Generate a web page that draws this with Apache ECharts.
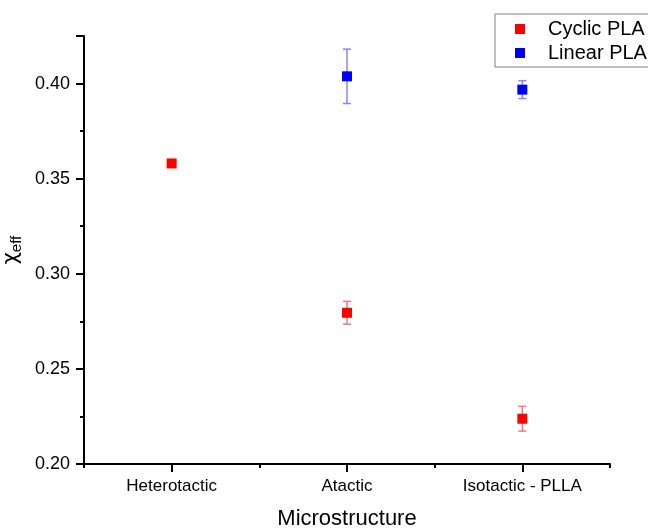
<!DOCTYPE html>
<html>
<head>
<meta charset="utf-8">
<script src="https://cdn.jsdelivr.net/npm/echarts@6/dist/echarts.min.js"></script>
<style>
  html, body { margin: 0; padding: 0; background: #fff; }
  #chart { width: 648px; height: 528px; }
</style>
</head>
<body>
<div id="chart"></div>
<script>
const categories = ['Heterotactic', 'Atactic', 'Isotactic - PLLA']
const cyclicValues = [0.358, 0.2795, 0.2238]
const cyclicErrors = [0.002, 0.006, 0.0065]
const linearValues = [null, 0.4038, 0.3968]
const linearErrors = [null, 0.0143, 0.0047]
const yTicks = { min: 0.2, max: 0.425, interval: 0.05 }

const FONT = 'Liberation Sans, Arial, sans-serif'

const chart = echarts.init(document.getElementById('chart'))

// build [index, value, err] triples, skip empty points
const toPoints = (vals, errs) => vals
  .map((v, i) => (v == null ? null : [i, v, errs[i]]))
  .filter(p => p)

const errorBars = (name, vals, errs, color) => ({
  name: name,
  type: 'custom',
  z: 1,
  silent: true,
  data: toPoints(vals, errs),
  renderItem: (params, api) => {
    const x = api.value(0)
    const v = api.value(1)
    const e = api.value(2)
    const top = api.coord([x, v + e])
    const bot = api.coord([x, v - e])
    const half = 4
    const style = { stroke: color, lineWidth: 1.5 }
    return {
      type: 'group',
      children: [
        { type: 'line', shape: { x1: top[0], y1: top[1], x2: bot[0], y2: bot[1] }, style },
        { type: 'line', shape: { x1: top[0] - half, y1: top[1], x2: top[0] + half, y2: top[1] }, style },
        { type: 'line', shape: { x1: bot[0] - half, y1: bot[1], x2: bot[0] + half, y2: bot[1] }, style }
      ]
    }
  }
})

const option = {
  animation: false,
  backgroundColor: '#fff',
  grid: { left: 84, right: 38, top: 36, bottom: 64, outerBoundsMode: 'none', containLabel: false },
  legend: {
    orient: 'vertical',
    left: 495,
    top: 14,
    data: ['Cyclic PLA', 'Linear PLA'],
    icon: 'rect',
    itemWidth: 10,
    itemHeight: 10,
    itemGap: 4,
    padding: [5, 20, 4, 20],
    borderColor: '#808080',
    borderWidth: 1,
    borderRadius: 0,
    textStyle: {
      fontFamily: FONT,
      fontSize: 20,
      color: '#000',
      lineHeight: 20,
      padding: [0, 0, 0, 18]
    }
  },
  xAxis: [
    {
      type: 'category',
      data: categories,
      boundaryGap: true,
      name: 'Microstructure',
      nameLocation: 'middle',
      nameGap: 44,
      nameTextStyle: { fontFamily: FONT, fontSize: 22, color: '#000' },
      axisLine: { lineStyle: { color: '#000', width: 2 } },
      axisTick: { show: true, alignWithLabel: true, length: 8, lineStyle: { color: '#000', width: 2 } },
      axisLabel: { fontFamily: FONT, fontSize: 17, color: '#000', margin: 14 },
      splitLine: { show: false }
    },
    {
      // minor ticks at the category boundaries
      type: 'category',
      data: categories,
      position: 'bottom',
      boundaryGap: true,
      axisLine: { show: false },
      axisTick: { show: true, length: 4, lineStyle: { color: '#000', width: 2 } },
      axisLabel: { show: false },
      splitLine: { show: false }
    }
  ],
  yAxis: {
    type: 'value',
    min: yTicks.min,
    max: yTicks.max,
    interval: yTicks.interval,
    name: '{a|χ}{b|eff}',
    nameLocation: 'middle',
    nameRotate: 90,
    nameGap: 56,
    nameTextStyle: {
      rich: {
        a: { fontFamily: 'DejaVu Sans, Noto Sans, sans-serif', fontSize: 21, color: '#000' },
        b: { fontFamily: FONT, fontSize: 15, color: '#000', padding: [10, 0, 0, 0] }
      }
    },
    axisLine: { show: true, lineStyle: { color: '#000', width: 2 } },
    axisTick: { show: true, length: 8, lineStyle: { color: '#000', width: 2 } },
    minorTick: { show: true, splitNumber: 2, length: 4, lineStyle: { color: '#000', width: 2 } },
    axisLabel: {
      fontFamily: FONT,
      fontSize: 18,
      color: '#000',
      margin: 14,
      showMaxLabel: false,
      formatter: v => v.toFixed(2)
    },
    splitLine: { show: false }
  },
  series: [
    errorBars('Cyclic PLA error', cyclicValues, cyclicErrors, 'rgba(240, 110, 110, 0.9)'),
    errorBars('Linear PLA error', linearValues, linearErrors, 'rgba(120, 120, 255, 0.9)'),
    {
      name: 'Cyclic PLA',
      type: 'scatter',
      z: 3,
      symbol: 'rect',
      symbolSize: 10,
      itemStyle: { color: '#ff0000', opacity: 1 },
      data: toPoints(cyclicValues, cyclicErrors).map(p => [p[0], p[1]])
    },
    {
      name: 'Linear PLA',
      type: 'scatter',
      z: 3,
      symbol: 'rect',
      symbolSize: 10,
      itemStyle: { color: '#0000ff', opacity: 1 },
      data: toPoints(linearValues, linearErrors).map(p => [p[0], p[1]])
    }
  ]
}

chart.setOption(option)
</script>
</body>
</html>
